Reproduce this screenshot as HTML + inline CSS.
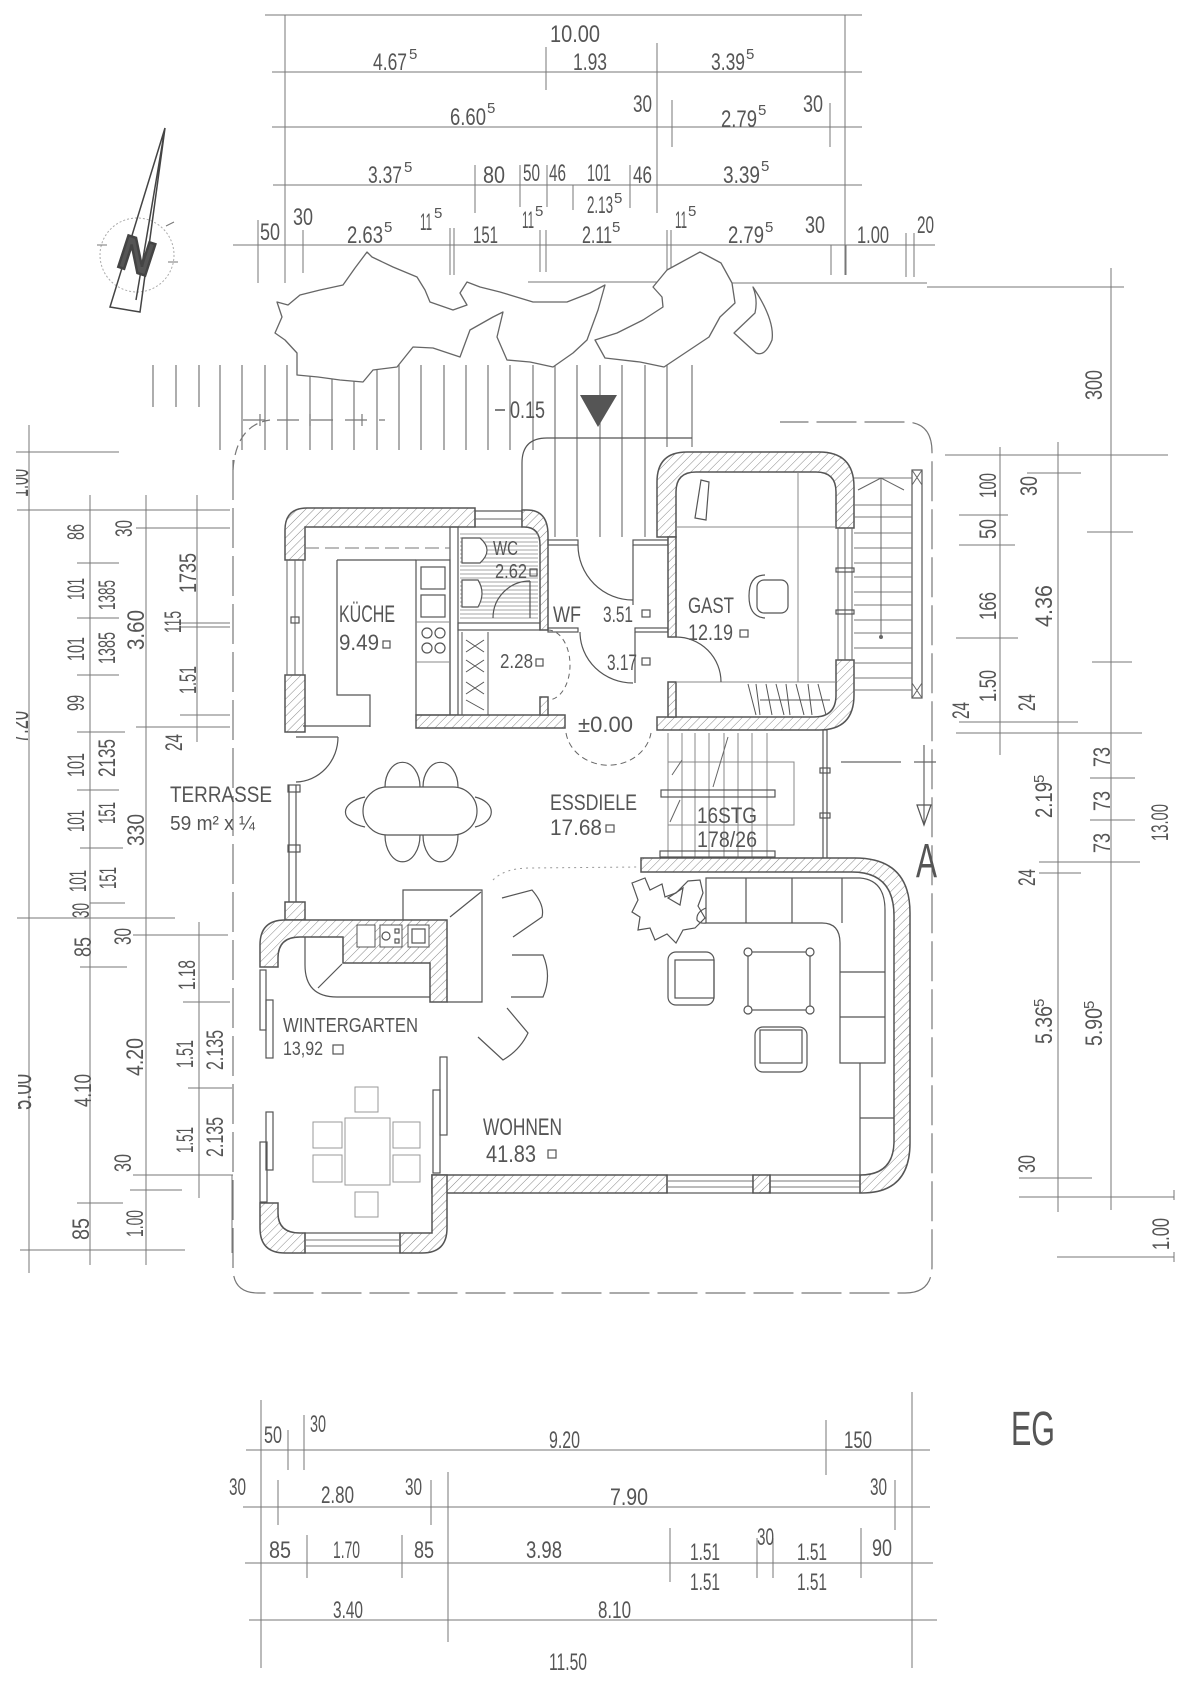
<!DOCTYPE html>
<html><head><meta charset="utf-8"><style>
html,body{margin:0;padding:0;background:#fff}
svg{display:block}
text{font-family:"Liberation Sans",sans-serif;fill:#555}
.w{fill:url(#h);stroke:#555;stroke-width:1.5}
.o{fill:none;stroke:#555;stroke-width:1.2}
.f{fill:none;stroke:#888;stroke-width:1}
</style></head><body>
<svg width="1190" height="1683" viewBox="0 0 1190 1683" xmlns="http://www.w3.org/2000/svg">
<defs>
<pattern id="h" width="6" height="6" patternUnits="userSpaceOnUse" patternTransform="rotate(45)"><rect width="6" height="6" fill="#fff"/><line x1="0" y1="0" x2="0" y2="6" stroke="#888" stroke-width="1"/></pattern>
</defs>
<rect width="1190" height="1683" fill="#fff"/>

<!-- ================= DIMENSION LINES ================= -->
<g stroke="#777" stroke-width="1" fill="none">
<path d="M265,15H862 M272,72H862 M272,127H862 M273,185H862 M233,245H935 M285,15V283 M845,15V275 M546,47V90 M657,43V213 M672,100V147 M830,103V147 M475,165V213 M520,165V207 M547,165V207 M573,185V210 M630,165V208 M258,220V283 M303,230V273 M450,228V275 M454,228V275 M540,230V272 M546,230V272 M667,230V270 M671,230V270 M831,245V275 M846,245V275 M906,233V277 M914,233V277 M528,282H660 M732,283H927 M927,287H1124 M1111,268V1210"/>
<path d="M1000,447V755 M1058,442V1212 M945,455H1168 M1027,473H1081 M959,515H1008 M959,545H1015 M1087,532H1133 M956,638H1018 M1092,662H1132 M959,722H1078 M956,733H1142 M1090,778H1135 M1090,820H1135 M1039,862H1140 M1039,873H1081 M1019,1178H1092 M1019,1197H1174 M1057,1257H1174 M1174,1190V1200 M1174,1252V1262"/>
<path d="M29,425V1273 M90,495V1265 M146,495V1265 M197,495V742 M199,922V1198 M232,1175V1253 M15,452H119 M17,510H230 M136,528H230 M77,563H119 M77,618H119 M180,623H230 M180,627H230 M77,675H119 M180,715H230 M136,727H230 M77,732H125 M77,790H119 M80,848H123 M90,903H125 M17,918H175 M133,935H228 M80,967H127 M183,1002H230 M188,1088H232 M133,1175H233 M130,1190H182 M77,1203H123 M20,1250H185"/>
<path d="M246,1450H930 M261,1400V1668 M912,1392V1668 M288,1430V1470 M304,1415V1470 M826,1420V1475 M243,1507H930 M278,1480V1525 M431,1480V1525 M448,1472V1642 M895,1480V1530 M245,1563H933 M307,1535V1578 M402,1535V1578 M670,1528V1582 M757,1538V1578 M773,1538V1578 M861,1528V1578 M249,1620H937"/>
</g>

<!-- ================= TERRACE STEP LINES ================= -->
<g stroke="#777" stroke-width="1.2">
<path d="M153,365V407 M176,365V407 M199,365V407 M220,365V450 M242,365V450 M265,365V450 M287,365V450 M310,365V450 M332,365V450 M354,365V450 M377,365V450 M399,365V450 M421,365V450 M444,365V450 M466,365V450 M488,365V450 M510,365V450 M533,365V450 M555,365V537 M577,365V537 M600,365V537 M622,365V537 M645,365V537 M667,365V447 M692,365V447"/>
</g>

<g fill="#fff" stroke="#666" stroke-width="1.3" stroke-linejoin="round">
<path d="M277,302 L288,305 L300,295 L320,290 L343,285 L355,268 L367,252 L372,257 L393,267 L417,277 L425,290 L430,302 L453,310 L467,305 L460,293 L467,282 L480,287 L500,292 L533,302 L567,302 L590,293 L605,285 L598,310 L587,340 L573,353 L553,367 L530,362 L507,360 L497,337 L503,312 L493,317 L470,330 L460,357 L433,348 L413,347 L397,367 L373,370 L363,382 L340,380 L318,377 L297,375 L297,353 L285,340 L275,333 L282,317 Z"/>
<path d="M653,287 L667,270 L700,252 L706,255 L721,263 L732,283 L735,303 L720,317 L709,337 L685,353 L664,367 L640,362 L605,358 L595,340 L617,333 L643,320 L663,307 L662,297 Z"/>
<path d="M753,287 Q775,320 772,340 Q765,357 756,353 L734,333 L755,313 Q758,300 753,287 Z"/>
</g>

<!-- compass -->
<g>
<circle cx="137" cy="255" r="37" fill="none" stroke="#aaa" stroke-width="1" stroke-dasharray="2,2"/>
<path d="M97,245H107 M166,226L174,222 M168,262H178" stroke="#777" stroke-width="1"/>
<path d="M165,128 L110,307 L140,312 Z M165,128 L136,300" fill="none" stroke="#444" stroke-width="1.5"/>
<text x="0" y="0" font-size="48" font-weight="bold" fill="#444" stroke="#444" stroke-width="2.5" transform="translate(137,255) rotate(18)" text-anchor="middle" dy="17">N</text>
</g>

<g fill="none" stroke="#777" stroke-width="1.2">
<path d="M233,470 Q236,425 270,420" stroke-dasharray="10,5"/>
<path d="M243,420H385" stroke-dasharray="22,12"/>
<path d="M260,414V426 M310,414V426 M362,414V426"/>
<path d="M233,460V1268 Q233,1293 258,1293 H905 Q932,1293 932,1266 V452 Q932,422 905,422 H780" stroke-dasharray="40,8"/>
</g>

<path d="M522,510V463Q522,438 547,438H692" class="o"/>
<polygon points="580,395 617,395 598,427" fill="#555"/>
<path d="M495,410H505" stroke="#555" stroke-width="1.5"/>
<text x="510" y="418" font-size="24" textLength="35" lengthAdjust="spacingAndGlyphs">0.15</text>

<!-- kitchen -->
<path class="w" d="M285,560V530Q285,508 307,508H475V527H305V560Z"/>
<rect class="w" x="285" y="675" width="20" height="57"/>
<path d="M287,560V675 M303,560V675 M295,560V675" stroke="#666" stroke-width="1"/>
<rect x="291" y="617" width="8" height="6" class="o"/>
<rect x="475" y="511" width="47" height="16" class="o"/>
<path d="M475,519H522" stroke="#666"/>
<path class="w" d="M522,510H527Q548,510 548,535V630H540V545Q540,527 524,527H522Z"/>
<rect x="450" y="527" width="8" height="188" class="o"/>
<rect x="458" y="623" width="82" height="7" class="o"/>
<rect class="w" x="416" y="715" width="149" height="13"/>
<rect class="w" x="540" y="697" width="8" height="18"/>
<path d="M305,548H450" stroke="#777" stroke-dasharray="14,6"/>
<path d="M337,560H416 M337,560V695H370V727 M303,726H370" class="o"/>
<rect x="416" y="560" width="34" height="155" class="o"/>
<path d="M416,622H450 M416,662H450" class="f"/>
<rect x="421" y="567" width="24" height="22" class="o"/>
<rect x="421" y="595" width="24" height="22" class="o"/>
<g class="o"><circle cx="427" cy="633" r="5"/><circle cx="440" cy="633" r="5"/><circle cx="427" cy="648" r="5"/><circle cx="440" cy="648" r="5"/></g>
<g stroke="#888" stroke-width="0.8">
<path d="M460,534H538 M460,538H538 M460,542H538 M460,546H538 M460,550H538 M460,554H538 M460,558H538 M460,562H538 M460,566H538 M460,570H538 M460,574H538 M460,578H538 M460,582H538 M460,586H538 M460,590H538 M460,594H538 M460,598H538 M460,602H538 M460,606H538 M460,610H538 M460,614H538 M460,618H538"/>
</g>
<path d="M462,538H480Q494,550 480,563H462Z" fill="#fff" stroke="#555" stroke-width="1.2"/>
<path d="M462,580H478Q486,593 478,607H462Z" fill="#fff" stroke="#555" stroke-width="1.2"/>
<path d="M493,618A37,37 0 0 1 530,581 M530,581V618" class="o"/>
<path d="M462,632V715 M488,632V715 M466,640L484,652 M466,652L484,640 M466,660L484,672 M466,672L484,660 M466,682L484,694 M466,694L484,682 M466,700L484,710" stroke="#555" stroke-width="1"/>
<path d="M548,630A22,35 0 0 1 548,700" fill="none" stroke="#666" stroke-dasharray="5,4"/>
<rect x="548" y="540" width="30" height="5" class="o"/>
<rect x="633" y="540" width="35" height="5" class="o"/>
<rect x="548" y="628" width="30" height="4" class="o"/>
<rect x="635" y="628" width="33" height="4" class="o"/>
<path d="M578,545A55,55 0 0 0 633,600 M633,545V605" class="o"/>
<path d="M580,632A53,51 0 0 0 633,683 M635,632V683" class="o"/>
<path d="M566,733A43,38 0 0 0 651,733" fill="none" stroke="#666" stroke-dasharray="6,4"/>

<!-- GAST -->
<path class="w" d="M657,537V482Q657,452 687,452H819Q854,452 854,487V528H836V492Q836,472 816,472H696Q676,472 676,492V537Z"/>
<path class="w" d="M836,660H854V695Q854,730 819,730H657V717H814Q836,717 836,695Z"/>
<rect class="w" x="668" y="537" width="8" height="100"/>
<rect class="w" x="668" y="682" width="8" height="35"/>
<path d="M838,528V660 M845,528V660 M852,528V660" stroke="#666"/>
<rect x="836" y="568" width="18" height="4" class="o"/>
<rect x="836" y="610" width="18" height="4" class="o"/>
<path d="M676,527H836 M798,472V682 M676,682H836" class="f"/>
<path d="M748,684L756,715 M756,684L760,715 M766,684L772,715 M776,684L784,715 M786,684L790,715 M796,684L804,715 M808,684L812,715 M818,684L826,715 M760,700H830" stroke="#555" stroke-width="1"/>
<path d="M676,637A45,45 0 0 1 721,682" class="o"/>
<path d="M695,518L701,480L709,482L706,520Z" class="o"/>
<rect x="757" y="580" width="31" height="33" rx="7" class="o"/>
<path d="M765,575Q749,575 749,596Q749,617 765,618" class="o"/>
<rect x="912" y="470" width="10" height="228" class="o"/>
<path d="M912,470L922,485 M922,470L912,485 M912,683L922,698 M922,683L912,698" stroke="#666"/>
<path d="M854,478H912 M854,505H912 M854,517H912 M854,533H912 M854,548H912 M854,563H912 M854,577H912 M854,592H912 M854,605H912 M854,620H912 M854,633H912 M854,648H912 M854,663H912 M854,678H912 M854,690H912" stroke="#777"/>
<path d="M881,478V637 M858,490L881,478L904,490" stroke="#666" fill="none"/>
<circle cx="881" cy="637" r="2" fill="#666"/>

<!-- internal stair -->
<path d="M668,733V857 M682,733V857 M695,733V857 M709,733V857 M724,733V857 M738,733V857 M752,733V857 M767,733V857" stroke="#888" stroke-width="1"/>
<rect x="668" y="762" width="126" height="63" class="f"/>
<rect x="661" y="790" width="114" height="7" class="o" fill="#fff"/>
<rect x="660" y="851" width="115" height="6" class="o"/>
<path d="M728,737L713,787 M670,822L680,800 M672,775L682,760" stroke="#666"/>
<rect x="823" y="730" width="4" height="130" class="o"/>
<rect x="820" y="768" width="10" height="5" class="o"/>
<rect x="820" y="813" width="10" height="5" class="o"/>
<path d="M924,745V825 M914,762H936 M841,762H901" stroke="#666" stroke-width="1.2"/>
<path d="M917,805L924,825L931,805Z" class="o"/>
<text x="916" y="877" font-size="48" textLength="21" lengthAdjust="spacingAndGlyphs" fill="#666">A</text>

<!-- Wohnen walls -->
<path class="w" d="M641,858H855Q910,858 910,913V1143Q910,1193 862,1193H860V1175Q894,1175 894,1141V916Q894,872 852,872H641Z"/>
<rect class="w" x="432" y="1175" width="235" height="18"/>
<rect x="667" y="1175" width="86" height="18" class="o"/>
<path d="M667,1181H753 M667,1187H753 M770,1181H860 M770,1187H860" stroke="#777"/>
<rect class="w" x="753" y="1175" width="17" height="18"/>
<rect x="770" y="1175" width="90" height="18" class="o"/>

<path d="M289,785V902 M296,785V902" stroke="#555" stroke-width="1.2"/>
<rect x="288" y="785" width="12" height="7" class="o"/>
<rect x="288" y="845" width="12" height="7" class="o"/>
<path d="M338,737A43,45 0 0 1 296,782 M296,737H338" class="o"/>

<!-- Wintergarten -->
<rect class="w" x="285" y="902" width="20" height="18"/>
<path class="w" d="M260,967V945Q260,920 285,920H447V1002H430V963H343V937H300Q278,937 278,958V967Z"/>
<rect x="357" y="925" width="18" height="22" fill="#fff" stroke="#555"/>
<rect x="380" y="925" width="22" height="22" fill="#fff" stroke="#555"/>
<circle cx="386" cy="936" r="4" class="o"/>
<rect x="395" y="929" width="4" height="4" class="o"/><rect x="395" y="939" width="4" height="4" class="o"/>
<rect x="408" y="925" width="21" height="22" fill="#fff" stroke="#555"/>
<rect x="412" y="929" width="13" height="14" class="o"/>
<path d="M305,937V965Q305,997 337,997H430 M318,988L342,964" class="o"/>
<path d="M403,920V890H482V1002H447 M450,917L481,892" class="o"/>
<rect x="260" y="970" width="6" height="60" class="o"/>
<rect x="266" y="1000" width="7" height="58" class="o"/>
<rect x="266" y="1112" width="7" height="58" class="o"/>
<rect x="260" y="1142" width="7" height="60" class="o"/>
<rect x="440" y="1057" width="7" height="78" class="o"/>
<rect x="433" y="1090" width="7" height="83" class="o"/>
<path class="w" d="M260,1203H278V1213Q278,1233 300,1233H305V1253H285Q260,1253 260,1228Z"/>
<path class="w" d="M400,1233H432V1175H447V1228Q447,1253 422,1253H400Z"/>
<rect x="305" y="1233" width="95" height="20" class="o"/>
<path d="M305,1240H400 M305,1246H400" stroke="#777"/>
<path d="M502,898L532,890Q545,905 542,917L513,937" class="o"/>
<path d="M512,955H543Q552,976 543,997H511" class="o"/>
<path d="M478,1037L503,1060Q520,1050 528,1033L507,1008" class="o"/>
<g fill="none" stroke="#999" stroke-width="1">
<rect x="345" y="1118" width="45" height="67"/>
<rect x="355" y="1087" width="23" height="25"/>
<rect x="355" y="1192" width="23" height="25"/>
<rect x="313" y="1122" width="29" height="26"/>
<rect x="313" y="1155" width="29" height="27"/>
<rect x="393" y="1122" width="27" height="26"/>
<rect x="393" y="1155" width="27" height="27"/>
</g>

<rect x="363" y="787" width="114" height="48" rx="24" class="o"/>
<path d="M385,787A17,24 0 0 1 420,787 M423,787A17,24 0 0 1 458,787 M385,835A17,26 0 0 0 420,835 M423,835A17,26 0 0 0 458,835 M365,797A30,16 0 0 0 365,827 M475,797A25,16 0 0 1 475,827" class="o"/>

<path d="M493,880Q505,868 530,868L637,867" fill="none" stroke="#999" stroke-dasharray="2,4"/>
<path d="M632,883 L645,878 L650,890 L662,884 L665,897 L676,893 L688,881 L700,880 L703,893 L698,906 L705,918 L695,928 L683,930 L676,943 L667,934 L655,940 L650,928 L638,930 L640,917 L632,912 L638,900 Z" class="o"/>
<path d="M683,888L668,898L680,905Z" class="o"/>

<g class="o">
<path d="M706,878H860Q885,880 885,910V1063H840V943Q840,923 822,923H706Z"/>
<path d="M746,878V923 M792,878V923 M842,878V923 M840,972H885 M840,1017H885"/>
<path d="M706,908Q696,912 697,920Q700,924 706,923"/>
<path d="M860,1063V1175 M860,1118H894"/>
<rect x="748" y="952" width="62" height="58"/>
<circle cx="748" cy="952" r="4" fill="#fff"/><circle cx="810" cy="952" r="4" fill="#fff"/>
<circle cx="748" cy="1010" r="4" fill="#fff"/><circle cx="810" cy="1010" r="4" fill="#fff"/>
<rect x="668" y="952" width="46" height="53" rx="8"/>
<rect x="675" y="960" width="39" height="38"/>
<rect x="755" y="1027" width="52" height="45" rx="8"/>
<rect x="760" y="1030" width="42" height="33"/>
</g>

<!-- ================= ROOM LABELS ================= -->
<g fill="#555">
<text x="339" y="622" font-size="24" textLength="56" lengthAdjust="spacingAndGlyphs">KÜCHE</text>
<text x="339" y="650" font-size="22" textLength="40" lengthAdjust="spacingAndGlyphs">9.49</text>
<rect x="383" y="641" width="7" height="7" class="o"/>
<text x="493" y="555" font-size="20" textLength="25" lengthAdjust="spacingAndGlyphs">WC</text>
<text x="495" y="578" font-size="20" textLength="32" lengthAdjust="spacingAndGlyphs">2.62</text>
<rect x="530" y="569" width="7" height="7" class="o"/>
<text x="500" y="668" font-size="20" textLength="33" lengthAdjust="spacingAndGlyphs">2.28</text>
<rect x="536" y="659" width="7" height="7" class="o"/>
<text x="553" y="622" font-size="22" textLength="28" lengthAdjust="spacingAndGlyphs" fill="#777">WF</text>
<text x="603" y="622" font-size="22" textLength="30" lengthAdjust="spacingAndGlyphs">3.51</text>
<rect x="642" y="610" width="8" height="7" class="o"/>
<text x="607" y="670" font-size="22" textLength="30" lengthAdjust="spacingAndGlyphs">3.17</text>
<rect x="642" y="658" width="8" height="7" class="o"/>
<text x="688" y="613" font-size="22" textLength="46" lengthAdjust="spacingAndGlyphs">GAST</text>
<text x="688" y="640" font-size="22" textLength="45" lengthAdjust="spacingAndGlyphs">12.19</text>
<rect x="740" y="630" width="8" height="7" class="o"/>
<text x="578" y="732" font-size="22" textLength="55" lengthAdjust="spacingAndGlyphs">±0.00</text>
<text x="550" y="810" font-size="22" textLength="87" lengthAdjust="spacingAndGlyphs" fill="#888">ESSDIELE</text>
<text x="550" y="835" font-size="22" textLength="52" lengthAdjust="spacingAndGlyphs" fill="#777">17.68</text>
<rect x="606" y="825" width="8" height="7" class="o"/>
<text x="170" y="802" font-size="22" textLength="102" lengthAdjust="spacingAndGlyphs" fill="#444">TERRASSE</text>
<text x="170" y="830" font-size="20" textLength="85" lengthAdjust="spacingAndGlyphs" fill="#444">59 m² x ¼</text>
<text x="697" y="823" font-size="22" textLength="60" lengthAdjust="spacingAndGlyphs">16STG</text>
<text x="697" y="847" font-size="22" textLength="60" lengthAdjust="spacingAndGlyphs">178/26</text>
<text x="283" y="1032" font-size="20" textLength="135" lengthAdjust="spacingAndGlyphs" fill="#444">WINTERGARTEN</text>
<text x="283" y="1055" font-size="19" textLength="40" lengthAdjust="spacingAndGlyphs" fill="#444">13,92</text>
<rect x="333" y="1045" width="10" height="9" class="o"/>
<text x="483" y="1135" font-size="24" textLength="79" lengthAdjust="spacingAndGlyphs">WOHNEN</text>
<text x="486" y="1162" font-size="24" textLength="50" lengthAdjust="spacingAndGlyphs">41.83</text>
<rect x="548" y="1150" width="8" height="8" class="o"/>
<text x="1011" y="1445" font-size="48" textLength="44" lengthAdjust="spacingAndGlyphs" fill="#666">EG</text>
</g>

<!-- ================= TOP DIM LABELS ================= -->
<g font-size="24" fill="#555">
<text x="550" y="42" textLength="50" lengthAdjust="spacingAndGlyphs">10.00</text>
<text x="373" y="70" textLength="34" lengthAdjust="spacingAndGlyphs">4.67</text>
<text x="573" y="70" textLength="34" lengthAdjust="spacingAndGlyphs">1.93</text>
<text x="711" y="70" textLength="34" lengthAdjust="spacingAndGlyphs">3.39</text>
<text x="450" y="125" textLength="36" lengthAdjust="spacingAndGlyphs">6.60</text>
<text x="633" y="112" textLength="19" lengthAdjust="spacingAndGlyphs">30</text>
<text x="721" y="127" textLength="36" lengthAdjust="spacingAndGlyphs">2.79</text>
<text x="803" y="112" textLength="20" lengthAdjust="spacingAndGlyphs">30</text>
<text x="368" y="183" textLength="34" lengthAdjust="spacingAndGlyphs">3.37</text>
<text x="483" y="183" textLength="22" lengthAdjust="spacingAndGlyphs">80</text>
<text x="523" y="181" textLength="17" lengthAdjust="spacingAndGlyphs">50</text>
<text x="549" y="181" textLength="17" lengthAdjust="spacingAndGlyphs">46</text>
<text x="587" y="181" textLength="24" lengthAdjust="spacingAndGlyphs">101</text>
<text x="633" y="183" textLength="19" lengthAdjust="spacingAndGlyphs">46</text>
<text x="723" y="183" textLength="37" lengthAdjust="spacingAndGlyphs">3.39</text>
<text x="587" y="213" textLength="26" lengthAdjust="spacingAndGlyphs">2.13</text>
<text x="260" y="240" textLength="20" lengthAdjust="spacingAndGlyphs">50</text>
<text x="293" y="225" textLength="20" lengthAdjust="spacingAndGlyphs">30</text>
<text x="347" y="243" textLength="36" lengthAdjust="spacingAndGlyphs">2.63</text>
<text x="420" y="230" textLength="12" lengthAdjust="spacingAndGlyphs">11</text>
<text x="473" y="243" textLength="25" lengthAdjust="spacingAndGlyphs">151</text>
<text x="522" y="228" textLength="12" lengthAdjust="spacingAndGlyphs">11</text>
<text x="582" y="243" textLength="30" lengthAdjust="spacingAndGlyphs">2.11</text>
<text x="675" y="228" textLength="12" lengthAdjust="spacingAndGlyphs">11</text>
<text x="728" y="243" textLength="36" lengthAdjust="spacingAndGlyphs">2.79</text>
<text x="805" y="233" textLength="20" lengthAdjust="spacingAndGlyphs">30</text>
<text x="857" y="243" textLength="32" lengthAdjust="spacingAndGlyphs">1.00</text>
<text x="917" y="233" textLength="17" lengthAdjust="spacingAndGlyphs">20</text>
</g>
<g font-size="15" fill="#555">
<text x="409" y="59">5</text><text x="746" y="59">5</text><text x="487" y="113">5</text>
<text x="758" y="115">5</text><text x="404" y="172">5</text><text x="761" y="171">5</text>
<text x="614" y="203">5</text><text x="384" y="232">5</text><text x="434" y="218">5</text>
<text x="535" y="216">5</text><text x="612" y="232">5</text><text x="688" y="216">5</text>
<text x="765" y="232">5</text>
</g>

<!-- ================= BOTTOM DIM LABELS ================= -->
<g font-size="24" fill="#666">
<text x="264" y="1443" textLength="18" lengthAdjust="spacingAndGlyphs">50</text>
<text x="310" y="1432" textLength="16" lengthAdjust="spacingAndGlyphs">30</text>
<text x="549" y="1448" textLength="31" lengthAdjust="spacingAndGlyphs">9.20</text>
<text x="844" y="1448" textLength="28" lengthAdjust="spacingAndGlyphs">150</text>
<text x="229" y="1495" textLength="17" lengthAdjust="spacingAndGlyphs">30</text>
<text x="321" y="1503" textLength="33" lengthAdjust="spacingAndGlyphs">2.80</text>
<text x="405" y="1495" textLength="17" lengthAdjust="spacingAndGlyphs">30</text>
<text x="610" y="1505" textLength="38" lengthAdjust="spacingAndGlyphs">7.90</text>
<text x="870" y="1495" textLength="17" lengthAdjust="spacingAndGlyphs">30</text>
<text x="269" y="1558" textLength="22" lengthAdjust="spacingAndGlyphs">85</text>
<text x="333" y="1558" textLength="27" lengthAdjust="spacingAndGlyphs">1.70</text>
<text x="414" y="1558" textLength="20" lengthAdjust="spacingAndGlyphs">85</text>
<text x="526" y="1558" textLength="36" lengthAdjust="spacingAndGlyphs">3.98</text>
<text x="690" y="1560" textLength="30" lengthAdjust="spacingAndGlyphs">1.51</text>
<text x="757" y="1545" textLength="17" lengthAdjust="spacingAndGlyphs">30</text>
<text x="797" y="1560" textLength="30" lengthAdjust="spacingAndGlyphs">1.51</text>
<text x="872" y="1556" textLength="20" lengthAdjust="spacingAndGlyphs">90</text>
<text x="690" y="1590" textLength="30" lengthAdjust="spacingAndGlyphs">1.51</text>
<text x="797" y="1590" textLength="30" lengthAdjust="spacingAndGlyphs">1.51</text>
<text x="333" y="1618" textLength="30" lengthAdjust="spacingAndGlyphs">3.40</text>
<text x="598" y="1618" textLength="33" lengthAdjust="spacingAndGlyphs">8.10</text>
<text x="549" y="1670" textLength="38" lengthAdjust="spacingAndGlyphs">11.50</text>
</g>

<!-- ================= LEFT ROTATED LABELS ================= -->
<g font-size="24" fill="#555">
<text transform="translate(28,483) rotate(-90)" x="-14" textLength="28" lengthAdjust="spacingAndGlyphs" font-size="30">1.00</text>
<text transform="translate(28,727) rotate(-90)" x="-16" textLength="32" lengthAdjust="spacingAndGlyphs" font-size="30">7.20</text>
<text transform="translate(31,1092) rotate(-90)" x="-18" textLength="36" lengthAdjust="spacingAndGlyphs" font-size="30">5.00</text>
<text transform="translate(84,532) rotate(-90)" x="-8" textLength="16" lengthAdjust="spacingAndGlyphs">86</text>
<text transform="translate(84,589) rotate(-90)" x="-11" textLength="22" lengthAdjust="spacingAndGlyphs">101</text>
<text transform="translate(84,649) rotate(-90)" x="-12" textLength="24" lengthAdjust="spacingAndGlyphs">101</text>
<text transform="translate(84,703) rotate(-90)" x="-8" textLength="16" lengthAdjust="spacingAndGlyphs">99</text>
<text transform="translate(84,765) rotate(-90)" x="-12" textLength="24" lengthAdjust="spacingAndGlyphs">101</text>
<text transform="translate(84,821) rotate(-90)" x="-11" textLength="22" lengthAdjust="spacingAndGlyphs">101</text>
<text transform="translate(86,881) rotate(-90)" x="-11" textLength="22" lengthAdjust="spacingAndGlyphs">101</text>
<text transform="translate(89,910) rotate(-90)" x="-8" textLength="15" lengthAdjust="spacingAndGlyphs">30</text>
<text transform="translate(91,947) rotate(-90)" x="-10" textLength="20" lengthAdjust="spacingAndGlyphs">85</text>
<text transform="translate(91,1090) rotate(-90)" x="-17" textLength="33" lengthAdjust="spacingAndGlyphs">4.10</text>
<text transform="translate(89,1229) rotate(-90)" x="-11" textLength="22" lengthAdjust="spacingAndGlyphs">85</text>
<text transform="translate(115,595) rotate(-90)" x="-15" textLength="30" lengthAdjust="spacingAndGlyphs">1385</text>
<text transform="translate(115,648) rotate(-90)" x="-16" textLength="32" lengthAdjust="spacingAndGlyphs">1385</text>
<text transform="translate(115,758) rotate(-90)" x="-19" textLength="38" lengthAdjust="spacingAndGlyphs">2135</text>
<text transform="translate(115,813) rotate(-90)" x="-11" textLength="22" lengthAdjust="spacingAndGlyphs">151</text>
<text transform="translate(116,878) rotate(-90)" x="-11" textLength="22" lengthAdjust="spacingAndGlyphs">151</text>
<text transform="translate(132,528) rotate(-90)" x="-9" textLength="17" lengthAdjust="spacingAndGlyphs">30</text>
<text transform="translate(144,630) rotate(-90)" x="-20" textLength="40" lengthAdjust="spacingAndGlyphs">3.60</text>
<text transform="translate(144,830) rotate(-90)" x="-16" textLength="32" lengthAdjust="spacingAndGlyphs">330</text>
<text transform="translate(131,936) rotate(-90)" x="-9" textLength="17" lengthAdjust="spacingAndGlyphs">30</text>
<text transform="translate(143,1057) rotate(-90)" x="-19" textLength="38" lengthAdjust="spacingAndGlyphs">4.20</text>
<text transform="translate(131,1163) rotate(-90)" x="-9" textLength="18" lengthAdjust="spacingAndGlyphs">30</text>
<text transform="translate(143,1223) rotate(-90)" x="-14" textLength="27" lengthAdjust="spacingAndGlyphs">1.00</text>
<text transform="translate(196,573) rotate(-90)" x="-20" textLength="40" lengthAdjust="spacingAndGlyphs">1735</text>
<text transform="translate(181,622) rotate(-90)" x="-11" textLength="22" lengthAdjust="spacingAndGlyphs">115</text>
<text transform="translate(196,680) rotate(-90)" x="-14" textLength="28" lengthAdjust="spacingAndGlyphs">1.51</text>
<text transform="translate(182,742) rotate(-90)" x="-9" textLength="17" lengthAdjust="spacingAndGlyphs">24</text>
<text transform="translate(195,975) rotate(-90)" x="-15" textLength="30" lengthAdjust="spacingAndGlyphs">1.18</text>
<text transform="translate(193,1054) rotate(-90)" x="-14" textLength="28" lengthAdjust="spacingAndGlyphs">1.51</text>
<text transform="translate(223,1050) rotate(-90)" x="-20" textLength="40" lengthAdjust="spacingAndGlyphs">2.135</text>
<text transform="translate(193,1140) rotate(-90)" x="-13" textLength="26" lengthAdjust="spacingAndGlyphs">1.51</text>
<text transform="translate(223,1137) rotate(-90)" x="-20" textLength="40" lengthAdjust="spacingAndGlyphs">2.135</text>
</g>
<rect x="0" y="440" width="16" height="90" fill="#fff"/>
<rect x="0" y="690" width="16" height="80" fill="#fff"/>
<rect x="0" y="1050" width="18" height="90" fill="#fff"/>

<!-- ================= RIGHT ROTATED LABELS ================= -->
<g font-size="24" fill="#555">
<text transform="translate(1102,385) rotate(-90)" x="-15" textLength="30" lengthAdjust="spacingAndGlyphs">300</text>
<text transform="translate(996,485) rotate(-90)" x="-13" textLength="25" lengthAdjust="spacingAndGlyphs">100</text>
<text transform="translate(1037,486) rotate(-90)" x="-10" textLength="20" lengthAdjust="spacingAndGlyphs">30</text>
<text transform="translate(996,529) rotate(-90)" x="-10" textLength="20" lengthAdjust="spacingAndGlyphs">50</text>
<text transform="translate(996,606) rotate(-90)" x="-14" textLength="28" lengthAdjust="spacingAndGlyphs">166</text>
<text transform="translate(1052,606) rotate(-90)" x="-21" textLength="42" lengthAdjust="spacingAndGlyphs">4.36</text>
<text transform="translate(996,686) rotate(-90)" x="-16" textLength="32" lengthAdjust="spacingAndGlyphs">1.50</text>
<text transform="translate(1035,702) rotate(-90)" x="-9" textLength="17" lengthAdjust="spacingAndGlyphs">24</text>
<text transform="translate(969,710) rotate(-90)" x="-9" textLength="17" lengthAdjust="spacingAndGlyphs" fill="#888">24</text>
<text transform="translate(1052,800) rotate(-90)" x="-18" textLength="36" lengthAdjust="spacingAndGlyphs">2.19</text>
<text transform="translate(1044,778) rotate(-90)" x="-5" font-size="15">5</text>
<text transform="translate(1110,757) rotate(-90)" x="-10" textLength="20" lengthAdjust="spacingAndGlyphs" fill="#777">73</text>
<text transform="translate(1110,801) rotate(-90)" x="-10" textLength="20" lengthAdjust="spacingAndGlyphs" fill="#777">73</text>
<text transform="translate(1110,843) rotate(-90)" x="-10" textLength="20" lengthAdjust="spacingAndGlyphs" fill="#777">73</text>
<text transform="translate(1168,822) rotate(-90)" x="-19" textLength="37" lengthAdjust="spacingAndGlyphs" fill="#999">13.00</text>
<text transform="translate(1035,877) rotate(-90)" x="-9" textLength="17" lengthAdjust="spacingAndGlyphs">24</text>
<text transform="translate(1052,1025) rotate(-90)" x="-19" textLength="38" lengthAdjust="spacingAndGlyphs">5.36</text>
<text transform="translate(1044,1002) rotate(-90)" x="-5" font-size="15">5</text>
<text transform="translate(1102,1027) rotate(-90)" x="-19" textLength="38" lengthAdjust="spacingAndGlyphs" fill="#888">5.90</text>
<text transform="translate(1094,1004) rotate(-90)" x="-5" font-size="15" fill="#888">5</text>
<text transform="translate(1035,1164) rotate(-90)" x="-9" textLength="18" lengthAdjust="spacingAndGlyphs">30</text>
<text transform="translate(1169,1234) rotate(-90)" x="-16" textLength="32" lengthAdjust="spacingAndGlyphs" fill="#777">1.00</text>
</g>
</svg>
</body></html>
